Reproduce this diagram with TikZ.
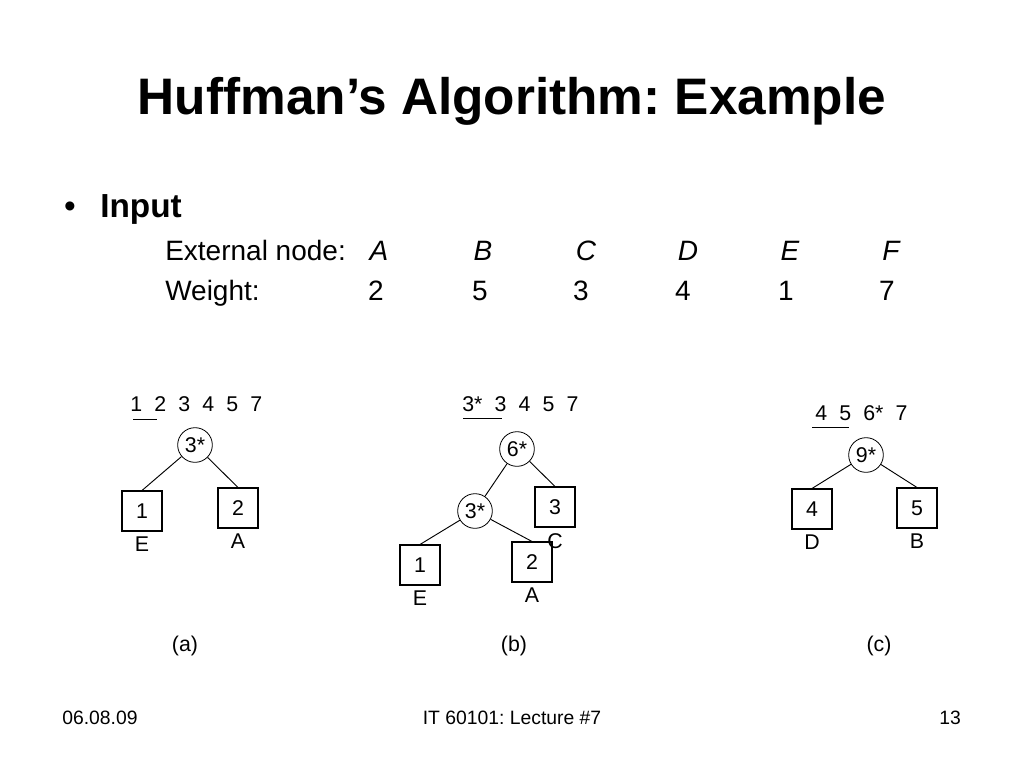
\documentclass[tikz,border=0pt]{standalone}
\usepackage{fontspec}
\setmainfont{Liberation Sans}
\usetikzlibrary{positioning}
\frenchspacing
\tikzset{
  huff circle/.style={draw, circle, line width=0.6pt, minimum size=26pt, inner sep=0pt, font=\fontsize{16}{18}\selectfont},
  huff box/.style={draw, rectangle, line width=0.8pt, minimum size=30pt, inner sep=0pt, font=\fontsize{16}{18}\selectfont},
  huff edge/.style={line width=0.7pt},
  huff leaf/.style={font=\fontsize{16}{18}\selectfont, inner sep=1pt},
  huff list/.style={font=\fontsize{16}{18}\selectfont, anchor=base west, inner sep=0pt},
  huff mark/.style={line width=0.7pt},
  slide text/.style={font=\fontsize{21}{26}\selectfont, inner sep=0pt},
  slide foot/.style={font=\fontsize{14.5}{17}\selectfont, inner sep=0pt, anchor=base},
}
\newcommand{\gap}{\hspace{.57em}}

\begin{document}
\begin{tikzpicture}[x=0.75pt, y=-0.75pt]
  \useasboundingbox (0,0) rectangle (1024,768);
  % title and input table
  \node[anchor=base, inner sep=0pt, font=\fontsize{38.5}{44}\selectfont\bfseries] (title) at (512,114) {Huffman’s Algorithm: Example};
  \node[anchor=base, inner sep=0pt, font=\fontsize{25}{30}\selectfont] (bullet) at (70,217) {•};
  \node[anchor=base west, inner sep=0pt, font=\fontsize{25}{30}\selectfont\bfseries] (input) at (100,217) {Input};
  \node[slide text, anchor=base west] (extname) at (165,260) {External node:};
  \node[slide text, anchor=base west] (weightname) at (165,300) {Weight:};
  \node[slide text, anchor=base] (lA) at (379,260) {\itshape A};
  \node[slide text, anchor=base] (lB) at (483,260) {\itshape B};
  \node[slide text, anchor=base] (lC) at (586,260) {\itshape C};
  \node[slide text, anchor=base] (lD) at (688,260) {\itshape D};
  \node[slide text, anchor=base] (lE) at (790,260) {\itshape E};
  \node[slide text, anchor=base] (lF) at (891,260) {\itshape F};
  \node[slide text, anchor=base] (wA) at (376,300) {2};
  \node[slide text, anchor=base] (wB) at (480,300) {5};
  \node[slide text, anchor=base] (wC) at (581,300) {3};
  \node[slide text, anchor=base] (wD) at (683,300) {4};
  \node[slide text, anchor=base] (wE) at (786,300) {1};
  \node[slide text, anchor=base] (wF) at (887,300) {7};

  % (a)
  \node[huff list] (alist) at (130,411) {1\gap 2\gap 3\gap 4\gap 5\gap 7};
  \draw[huff mark] (alist.base west) ++(3,8) -- ++(24,0);
  \node[huff circle] (a3) at (195,445) {3*};
  \node[huff box] (a1) at (142,511) {1};
  \node[huff box] (a2) at (238,508) {2};
  \node[huff leaf, below=3pt of a1] (aE) {E};
  \node[huff leaf, below=3pt of a2] (aA) {A};
  \draw[huff edge] (a3) -- (a1.north);
  \draw[huff edge] (a3) -- (a2.north);

  % (b)
  \node[huff list] (blist) at (462,411) {3*\gap 3\gap 4\gap 5\gap 7};
  \draw[huff mark] (blist.base west) ++(1,7) -- ++(39,0);
  \node[huff circle] (b6) at (517,449) {6*};
  \node[huff circle] (b3) at (475,511) {3*};
  \node[huff box] (bC) at (555,507) {3};
  \node[huff box] (b1) at (420,565) {1};
  \node[huff box] (b2) at (532,562) {2};
  \node[huff leaf, below=3pt of bC] (bCl) {C};
  \node[huff leaf, below=3pt of b1] (bE) {E};
  \node[huff leaf, below=3pt of b2] (bA) {A};
  \draw[huff edge] (b6) -- (b3);
  \draw[huff edge] (b6) -- (bC.north);
  \draw[huff edge] (b3) -- (b1.north);
  \draw[huff edge] (b3) -- (b2.north);

  % (c)
  \node[huff list] (clist) at (815,420) {4\gap 5\gap 6*\gap 7};
  \draw[huff mark] (clist.base west) ++(-3,7) -- ++(37,0);
  \node[huff circle] (c9) at (866,455) {9*};
  \node[huff box] (c4) at (812,509) {4};
  \node[huff box] (c5) at (917,508) {5};
  \node[huff leaf, below=3pt of c4] (cD) {D};
  \node[huff leaf, below=3pt of c5] (cB) {B};
  \draw[huff edge] (c9) -- (c4.north);
  \draw[huff edge] (c9) -- (c5.north);

  % captions and footer
  \node[huff leaf] (capa) at (185,646) {(a)};
  \node[huff leaf] (capb) at (514,646) {(b)};
  \node[huff leaf] (capc) at (879,646) {(c)};
  \node[slide foot, anchor=base west] (date) at (62,724) {06.08.09};
  \node[slide foot] (lecture) at (512,724) {IT 60101: Lecture \#7};
  \node[slide foot] (page) at (950,724) {13};
\end{tikzpicture}
\end{document}
